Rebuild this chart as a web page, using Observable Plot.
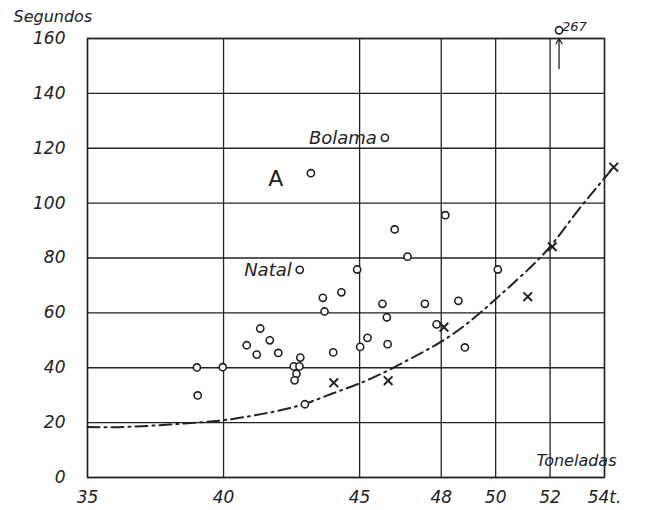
<!DOCTYPE html>
<html>
<head>
<meta charset="utf-8">
<script src="https://cdn.jsdelivr.net/npm/d3@7"></script>
<script src="https://cdn.jsdelivr.net/npm/@observablehq/plot@0.6"></script>
<style>
  html, body { margin: 0; padding: 0; background: #fff; }
  #chart { width: 647px; height: 510px; }
</style>
</head>
<body>
<div id="chart"></div>
<script>
// Tick values and labels
const xTicks = [35, 40, 45, 48, 50, 52, 54];
const xTickLabels = ["35", "40", "45", "48", "50", "52", "54t."];
const yTicks = [0, 20, 40, 60, 80, 100, 120, 140, 160];

// Open circles (toneladas, segundos)
const circleX = [39.02, 39.05, 39.97, 40.85, 41.22, 41.35, 41.70, 42.01, 42.58, 42.79, 42.68, 42.61, 42.82,
  42.80, 42.99, 43.21, 43.65, 43.71, 44.03, 44.33, 44.91, 45.02, 45.29, 45.84, 45.93, 46.00, 46.03,
  46.29, 46.76, 47.40, 47.83, 48.15, 48.63, 48.87, 50.08, 52.33];
const circleY = [40.1, 29.9, 40.2, 48.2, 44.8, 54.3, 50.0, 45.4, 40.5, 40.5, 37.8, 35.4, 43.7,
  75.7, 26.7, 110.9, 65.5, 60.5, 45.6, 67.5, 75.8, 47.6, 50.9, 63.3, 123.8, 58.4, 48.6,
  90.4, 80.5, 63.3, 55.8, 95.6, 64.4, 47.4, 75.8, 163];

// Crosses
const crossX = [44.05, 46.05, 48.10, 51.18, 52.08, 54.34];
const crossY = [34.5, 35.3, 54.8, 65.9, 84.1, 113.1];

// Dash-dot curve
const curveX = [35, 36, 37, 38, 39, 40, 41, 42, 43, 44, 45, 46, 47, 48, 49, 50, 51, 52, 53, 54.34];
const curveY = [18.4, 18.3, 18.7, 19.3, 20.0, 20.9, 22.4, 24.3, 26.9, 30.6, 34.3, 38.8, 44.0, 49.5, 56.5, 65.0, 74.0, 84.1, 97.0, 113.1];

// Named annotations
const labelText = ["Natal", "Bolama"];
const labelX = [42.80, 45.93];
const labelY = [75.7, 123.8];
const letterText = ["A"];
const letterX = [43.21];
const letterY = [110.9];
const offText = ["267"];
const offX = [52.33];
const offY = [163];
const arrowX = [52.33];
const arrowFrom = [149];
const arrowTo = [160];

const ink = "#222";

const circles = circleX.map((x, i) => ({x, y: circleY[i]}));
const crosses = crossX.map((x, i) => ({x, y: crossY[i]}));
const curve = curveX.map((x, i) => ({x, y: curveY[i]}));
const labels = labelText.map((t, i) => ({t, x: labelX[i], y: labelY[i]}));
const letters = letterText.map((t, i) => ({t, x: letterX[i], y: letterY[i]}));
const offs = offText.map((t, i) => ({t, x: offX[i], y: offY[i]}));
const arrows = arrowX.map((x, i) => ({x, y1: arrowFrom[i], y2: arrowTo[i]}));

const chart = Plot.plot({
  width: 647,
  height: 510,
  marginLeft: 87,
  marginRight: 43,
  marginTop: 38,
  marginBottom: 33,
  x: {domain: [35, 54], axis: null},
  y: {domain: [0, 160], axis: null},
  style: {fontFamily: "DejaVu Sans", fontStyle: "italic", fontSize: "17px", color: ink, background: "#fff"},
  marks: [
    Plot.gridX(xTicks, {stroke: ink, strokeOpacity: 1, strokeWidth: 1.3}),
    Plot.gridY(yTicks, {stroke: ink, strokeOpacity: 1, strokeWidth: 1.3}),
    Plot.frame({stroke: ink, strokeWidth: 1.4}),
    Plot.axisY(yTicks, {tickSize: 0, tickPadding: 22, label: null, fontSize: 17, fontStyle: "italic"}),
    Plot.axisX(xTicks, {tickSize: 0, tickPadding: 13, label: null, fontSize: 17, fontStyle: "italic",
      tickFormat: d => xTickLabels[xTicks.indexOf(d)]}),
    Plot.line(curve, {x: "x", y: "y", curve: "natural", stroke: ink, strokeWidth: 2, strokeDasharray: "12,5,2,5"}),
    Plot.dot(circles, {x: "x", y: "y", r: 3.6, stroke: ink, strokeWidth: 1.6, fill: "#fff"}),
    Plot.dot(crosses, {x: "x", y: "y", r: 4, symbol: "times", stroke: ink, strokeWidth: 2}),
    Plot.arrow(arrows, {x: "x", y1: "y1", y2: "y2", stroke: ink, strokeWidth: 1.3, headLength: 7}),
    Plot.text(labels, {x: "x", y: "y", text: "t", textAnchor: "end", dx: -8, fontSize: 18, fontStyle: "italic", letterSpacing: 1.5, fill: ink}),
    Plot.text(letters, {x: "x", y: "y", text: "t", dx: -35, dy: 6, fontSize: 22, fontStyle: "normal", fill: ink}),
    Plot.text(offs, {x: "x", y: "y", text: "t", textAnchor: "start", dx: 3, dy: -3, fontSize: 13, fontStyle: "italic", fill: ink}),
    Plot.text(["Segundos"], {frameAnchor: "top-left", dx: -74, dy: -28, textAnchor: "start", fontSize: 16, fontStyle: "italic", fill: ink}),
    Plot.text(["Toneladas"], {frameAnchor: "bottom-right", dx: 12, dy: -12, textAnchor: "end", fontSize: 16, fontStyle: "italic", letterSpacing: 0.8, fill: ink})
  ]
});
document.getElementById("chart").appendChild(chart);
</script>
</body>
</html>
